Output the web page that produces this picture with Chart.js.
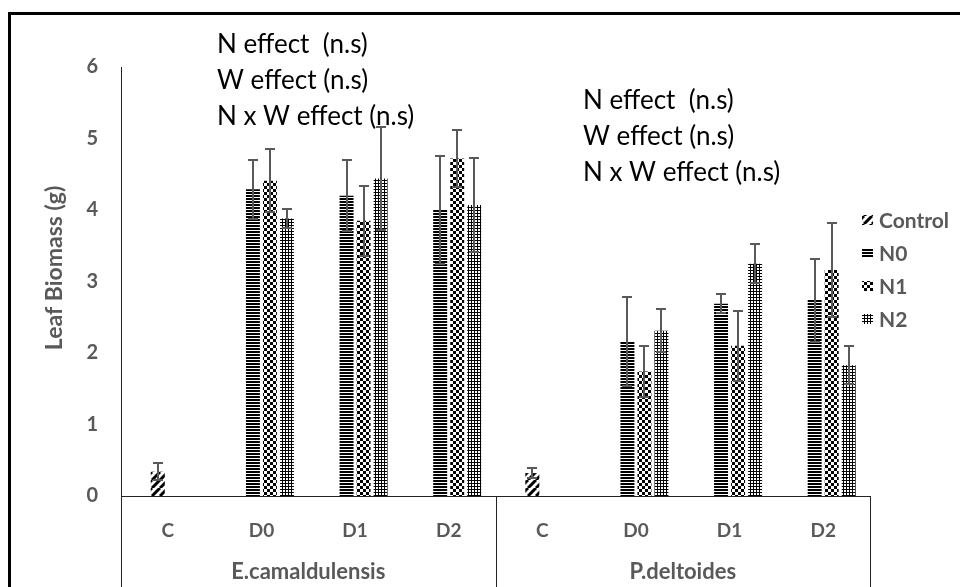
<!DOCTYPE html>
<html>
<head>
<meta charset="utf-8">
<script src="https://cdn.jsdelivr.net/npm/chart.js@4.4.1/dist/chart.umd.min.js"></script>
<style>
  html, body { margin: 0; padding: 0; background: #fff; }
  #wrap { width: 960px; height: 587px; }
</style>
</head>
<body>
<div id="wrap"><canvas id="chart" width="960" height="587"></canvas></div>
<script>
const categories = ['C', 'D0', 'D1', 'D2', 'C', 'D0', 'D1', 'D2'];
const groups = ['E.camaldulensis', 'P.deltoides'];
const seriesNames = ['Control', 'N0', 'N1', 'N2'];

const control = [0.34, null, null, null, 0.32, null, null, null];
const controlErr = [0.12, null, null, null, 0.07, null, null, null];
const n0 = [null, 4.29, 4.20, 4.00, null, 2.16, 2.69, 2.74];
const n0Err = [null, 0.41, 0.50, 0.76, null, 0.62, 0.13, 0.58];
const n1 = [null, 4.41, 3.85, 4.72, null, 1.74, 2.10, 3.16];
const n1Err = [null, 0.44, 0.49, 0.40, null, 0.36, 0.49, 0.66];
const n2 = [null, 3.88, 4.44, 4.07, null, 2.31, 3.25, 1.83];
const n2Err = [null, 0.13, 0.72, 0.66, null, 0.30, 0.27, 0.27];

const yTicks = [0, 1, 2, 3, 4, 5, 6];
const yTitle = 'Leaf Biomass (g)';

const notes = ['N effect  (n.s)', 'W effect (n.s)', 'N x W effect (n.s)'];

const labelFont = 'Lato';
const grey = '#595959';

function makePattern(size, draw) {
    const c = document.createElement('canvas');
    c.width = size[0];
    c.height = size[1];
    const g = c.getContext('2d');
    g.fillStyle = '#fff';
    g.fillRect(0, 0, c.width, c.height);
    g.fillStyle = '#000';
    g.strokeStyle = '#000';
    draw(g);
    return document.getElementById('chart').getContext('2d').createPattern(c, 'repeat');
}

// wide upward diagonal
const diagPattern = makePattern([8, 8], g => {
    g.lineWidth = 3;
    g.beginPath();
    for (let k = -8; k <= 16; k += 8) {
        g.moveTo(k, 8);
        g.lineTo(k + 8, 0);
    }
    g.stroke();
});
// narrow horizontal
const horizPattern = makePattern([4, 3], g => {
    g.fillRect(0, 0, 4, 2);
});
// checkerboard
const checkPattern = makePattern([6, 6], g => {
    g.fillRect(0, 0, 3, 3);
    g.fillRect(3, 3, 3, 3);
});
// small grid
const gridPattern = makePattern([3, 3], g => {
    g.fillRect(0, 0, 3, 1);
    g.fillRect(0, 0, 1, 3);
});

const patterns = [diagPattern, horizPattern, checkPattern, gridPattern];
const errors = [controlErr, n0Err, n1Err, n2Err];

const errorBars = {
    id: 'errorBars',
    afterDatasetsDraw(chart) {
        const ctx = chart.ctx;
        const y = chart.scales.y;
        ctx.save();
        ctx.strokeStyle = grey;
        ctx.lineWidth = 2;
        chart.data.datasets.forEach((ds, i) => {
            const meta = chart.getDatasetMeta(i);
            meta.data.forEach((bar, j) => {
                const v = ds.data[j];
                const e = errors[i][j];
                if (v === null || e === null) return;
                const top = Math.round(y.getPixelForValue(v + e));
                const bot = Math.round(y.getPixelForValue(v - e));
                const x = Math.round(bar.x);
                ctx.beginPath();
                ctx.moveTo(x, top);
                ctx.lineTo(x, bot);
                ctx.moveTo(x - 5, top);
                ctx.lineTo(x + 5, top);
                ctx.moveTo(x - 5, bot);
                ctx.lineTo(x + 5, bot);
                ctx.stroke();
            });
        });
        ctx.restore();
    }
};

const decorations = {
    id: 'decorations',
    afterDraw(chart) {
        const ctx = chart.ctx;
        const area = chart.chartArea;
        const x = chart.scales.x;
        ctx.save();

        // category box below the plot
        ctx.strokeStyle = '#222';
        ctx.lineWidth = 1;
        const mid = (x.getPixelForValue(3) + x.getPixelForValue(4)) / 2;
        ctx.beginPath();
        [area.left, mid, area.right].forEach(px => {
            const p = Math.round(px) + 0.5;
            ctx.moveTo(p, area.bottom);
            ctx.lineTo(p, chart.height);
        });
        ctx.stroke();

        // y axis title, sits a little above the axis middle in the original
        ctx.save();
        ctx.translate(55, 268);
        ctx.rotate(-Math.PI / 2);
        ctx.font = 'bold 23px ' + labelFont;
        ctx.fillStyle = grey;
        ctx.textAlign = 'center';
        ctx.textBaseline = 'middle';
        ctx.fillText(yTitle, 0, 0);
        ctx.restore();

        // legend
        ctx.font = 'bold 21px ' + labelFont;
        ctx.textBaseline = 'middle';
        ctx.textAlign = 'left';
        seriesNames.forEach((name, i) => {
            const cy = 220 + i * 33;
            ctx.fillStyle = patterns[i];
            ctx.fillRect(862, cy - 5, 11, 10);
            ctx.fillStyle = grey;
            ctx.fillText(name, 879, cy + 1);
        });

        // significance notes
        ctx.font = '26px ' + labelFont;
        ctx.fillStyle = '#000';
        ctx.textBaseline = 'alphabetic';
        notes.forEach((t, i) => {
            ctx.fillText(t, 217, 53 + i * 36);
            ctx.fillText(t, 583, 109 + i * 36);
        });

        // outer frame
        ctx.fillStyle = '#000';
        ctx.fillRect(8, 12, 952, 3);
        ctx.fillRect(8, 12, 3, 575);
        ctx.restore();
    }
};

new Chart(document.getElementById('chart'), {
    type: 'bar',
    data: {
        labels: categories,
        datasets: [
            { label: seriesNames[0], data: control, backgroundColor: patterns[0],
              categoryPercentage: 0.285, barPercentage: 2.1 },
            { label: seriesNames[1], data: n0, backgroundColor: patterns[1] },
            { label: seriesNames[2], data: n1, backgroundColor: patterns[2] },
            { label: seriesNames[3], data: n2, backgroundColor: patterns[3] }
        ]
    },
    options: {
        responsive: false,
        animation: false,
        categoryPercentage: 0.727,
        barPercentage: 0.82,
        layout: { padding: { top: 67, right: 90, left: 0, bottom: 0 } },
        plugins: {
            legend: { display: false },
            tooltip: { enabled: false }
        },
        scales: {
            y: {
                min: 0,
                max: 6,
                afterBuildTicks(scale) {
                    scale.ticks = yTicks.map(v => ({ value: v }));
                },
                afterFit(scale) { scale.width = 121; },
                grid: { display: false, drawTicks: false },
                border: { display: true, color: '#222', width: 1 },
                ticks: {
                    padding: 23,
                    color: grey,
                    font: { family: labelFont, size: 20, weight: 'bold' }
                }
            },
            x: {
                weight: 0,
                afterFit(scale) { scale.height = 55; },
                grid: { display: false, drawTicks: false },
                border: { display: true, color: '#222', width: 1 },
                ticks: {
                    padding: 23,
                    color: grey,
                    font: { family: labelFont, size: 19, weight: 'bold' }
                }
            },
            x2: {
                type: 'category',
                position: 'bottom',
                labels: groups,
                offset: true,
                weight: 1,
                afterFit(scale) { scale.height = 36; },
                grid: { display: false, drawTicks: false },
                border: { display: false },
                ticks: {
                    padding: 8,
                    color: grey,
                    font: { family: labelFont, size: 22, weight: 'bold' }
                }
            }
        }
    },
    plugins: [errorBars, decorations]
});
</script>
</body>
</html>
